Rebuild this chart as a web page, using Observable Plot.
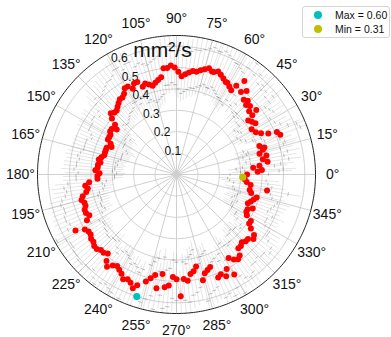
<!DOCTYPE html>
<html><head><meta charset="utf-8">
<script src="https://cdn.jsdelivr.net/npm/d3@7"></script>
<script src="https://cdn.jsdelivr.net/npm/@observablehq/plot@0.6"></script>
<style>
body{margin:0;background:#fff;font-family:"Liberation Sans",Arial,sans-serif;}
#wrap{position:relative;width:391px;height:337px;overflow:hidden;}
#legend{position:absolute;left:302px;top:6px;width:86px;height:30px;border:1px solid #d4d4d4;border-radius:3px;background:#fff;font-size:10.5px;color:#111;}
#legend .row{position:absolute;left:0;height:14px;line-height:14px;white-space:nowrap;}
#legend .dot{position:absolute;left:11px;top:3px;width:8px;height:8px;border-radius:50%;}
#legend .lab{position:absolute;left:32px;top:0;}
</style></head><body><div id="wrap"></div>
<script>
const angles = [
  0,2,3,5,6,8,10,12,14,16,
  17,19,21,23,24,26,28,31,33,35,
  37,38,39,41,43,45,46,48,50,52,
  54,56,57,59,61,62,64,66,68,70,
  71,73,75,77,79,81,83,85,87,89,
  91,93,95,97,99,101,103,105,107,109,
  111,113,115,117,119,121,123,125,127,129,
  131,133,135,137,139,141,143,145,147,149,
  151,153,155,157,159,161,163,165,167,169,
  171,173,175,177,179,181,183,185,187,189,
  191,193,195,197,199,201,203,205,207,209,
  211,213,215,217,219,221,223,225,227,229,
  231,233,235,237,239,241,243,245,247,249,
  250.5,254,256,258,260,262,264,266,268,270,
  272,274,276,278,280,282,284,286,288,290,
  292,294,296,298,300,302,304,306,308,310,
  312,314,316,318,320,322,324,326,328,330,
  332,334,336,338,340,342,344,346,348,350,
  352,354,356
];
const values = [
  0.33,0.38,0.40,0.36,0.39,0.43,0.41,0.43,0.40,0.42,
  0.43,0.41,0.52,0.51,0.47,0.44,0.42,0.41,0.44,0.43,
  0.42,0.45,0.48,0.45,0.47,0.46,0.48,0.47,0.51,0.49,
  0.54,0.50,0.47,0.48,0.49,0.49,0.50,0.51,0.52,0.51,
  0.51,0.52,0.51,0.50,0.49,0.49,0.48,0.47,0.46,0.48,
  0.50,0.51,0.50,0.50,0.46,0.45,0.44,0.43,0.44,0.45,
  0.44,0.47,0.47,0.45,0.47,0.47,0.45,0.44,0.44,0.43,
  0.42,0.41,0.41,0.42,0.40,0.37,0.35,0.37,0.37,0.36,
  0.36,0.36,0.34,0.33,0.35,0.35,0.35,0.35,0.36,0.37,
  0.36,0.37,0.37,0.38,0.36,0.37,0.37,0.41,0.43,0.42,
  0.43,0.45,0.46,0.45,0.45,0.46,0.46,0.45,0.47,0.54,
  0.50,0.49,0.49,0.50,0.50,0.51,0.51,0.50,0.50,0.49,
  0.52,0.54,0.52,0.51,0.52,0.53,0.55,0.54,0.55,0.57,
  0.55,0.52,0.50,0.48,0.54,0.47,0.53,0.52,0.48,0.49,
  0.57,0.49,0.50,0.47,0.46,0.44,0.51,0.48,0.47,0.46,
  0.52,0.51,0.53,0.50,0.54,0.46,0.48,0.49,0.48,0.45,
  0.45,0.44,0.45,0.45,0.47,0.46,0.43,0.41,0.41,0.38,
  0.37,0.37,0.39,0.36,0.37,0.38,0.39,0.36,0.35,0.43,
  0.35,0.33,0.32
];
const maxPoint = {angle: 252, value: 0.60};
const minPoint = {angle: 357.7, value: 0.31};
const angleTicks = [0,15,30,45,60,75,90,105,120,135,150,165,180,195,210,225,240,255,270,285,300,315,330,345];
const radialTicks = [0.1,0.2,0.3,0.4,0.5,0.6];
const rMax = 0.65;
const unitLabel = "mm²/s";

const data = angles.map((a, i) => ({angle: a, value: values[i]}));
const lon = a => a + 90;
const lat = v => 90 - v * 100;
const circle = r => d3.geoCircle().center([0, 90]).radius(r * 100).precision(1)();

const chart = Plot.plot({
  width: 391, height: 337,
  margin: 0,
  style: {fontFamily: "'Liberation Sans', Arial, sans-serif", background: "white"},
  projection: {type: "azimuthal-equidistant", rotate: [0, -90], domain: circle(rMax),
    insetLeft: 37, insetRight: 76, insetTop: 35, insetBottom: 24},
  marks: [
    Plot.geo(radialTicks, {geometry: r => circle(r), stroke: "#c4c4c4", strokeWidth: 0.8, fill: "none"}),
    Plot.link(angleTicks, {x1: a => lon(a), y1: 90, x2: a => lon(a), y2: lat(rMax), stroke: "#c4c4c4", strokeWidth: 0.8}),
    Plot.geo([0.015], {geometry: r => circle(r), fill: "#cfcfcf", stroke: "none"}),
    Plot.link(data, {x1: d => lon(d.angle), y1: d => lat(d.value - 0.12), x2: d => lon(d.angle), y2: d => lat(Math.min(d.value + 0.16, rMax)), stroke: "#b4b4b4", strokeWidth: 0.5, strokeOpacity: 0.7}),
    Plot.link(data, {x1: d => lon(d.angle) - 1.2, y1: d => lat(d.value - 0.08), x2: d => lon(d.angle) + 1.2, y2: d => lat(d.value - 0.08), stroke: "#888", strokeWidth: 0.6}),
    Plot.link(data.filter(d => d.value + 0.1 < rMax), {x1: d => lon(d.angle) - 1, y1: d => lat(d.value + 0.1), x2: d => lon(d.angle) + 1, y2: d => lat(d.value + 0.1), stroke: "#999", strokeWidth: 0.6}),
    Plot.geo([rMax], {geometry: r => circle(r), stroke: "#222", strokeWidth: 1, fill: "none"}),
    Plot.text(angleTicks, {x: a => lon(a), y: lat(0.73), text: a => a + "°", fontSize: 14, fill: "#111"}),
    Plot.text(radialTicks, {x: lon(120), y: r => lat(r), text: r => r.toFixed(1), dx: 7, dy: -5, fontSize: 12, fill: "#111"}),
    Plot.text([unitLabel], {frameAnchor: "top-left", dx: 162, dy: 50, textAnchor: "middle", lineAnchor: "middle", text: d => d, fontSize: 21, fill: "#111"}),
    Plot.line(data, {x: d => lon(d.angle), y: d => lat(d.value), stroke: "red", strokeOpacity: 0.2, strokeWidth: 0.8}),
    Plot.dot(data, {x: d => lon(d.angle), y: d => lat(d.value), r: 3, fill: "red"}),
    Plot.dot([maxPoint], {x: d => lon(d.angle), y: d => lat(d.value), r: 3.6, fill: "#00bfbf"}),
    Plot.dot([minPoint], {x: d => lon(d.angle), y: d => lat(d.value), r: 3.6, fill: "#bfbf00"})
  ]
});
const wrap = document.getElementById("wrap");
wrap.appendChild(chart);
const legend = document.createElement("div");
legend.id = "legend";
legend.innerHTML =
  `<div class="row" style="top:1px;width:86px"><span class="dot" style="background:#00bfbf"></span><span class="lab">Max = ${maxPoint.value.toFixed(2)}</span></div>` +
  `<div class="row" style="top:15px;width:86px"><span class="dot" style="background:#bfbf00"></span><span class="lab">Min = ${minPoint.value.toFixed(2)}</span></div>`;
wrap.appendChild(legend);
</script></body></html>
